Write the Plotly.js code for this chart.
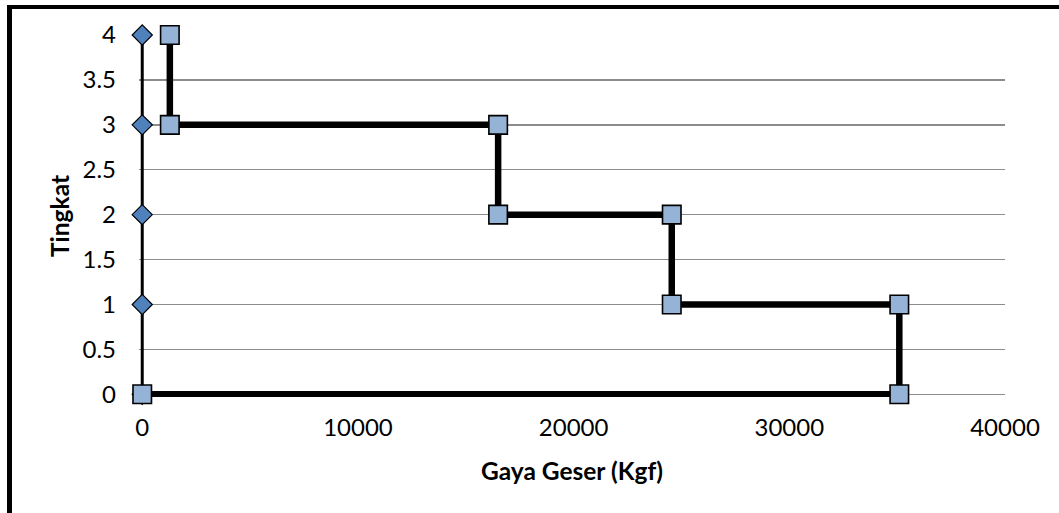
<!DOCTYPE html>
<html>
<head>
<meta charset="utf-8">
<script src="https://cdn.plot.ly/plotly-3.0.1.min.js"></script>
<style>
  html, body { margin: 0; padding: 0; background: #fff; }
  #wrap { position: relative; width: 1059px; height: 513px; }
  #chart { position: absolute; left: 0; top: 0; width: 1059px; height: 513px; }
  #frame {
    position: absolute; left: 7px; top: 5px; right: 0; bottom: 0;
    border-top: 4px solid #000; border-left: 5px solid #000;
    pointer-events: none;
  }
</style>
</head>
<body>
<div id="wrap">
  <div id="chart"></div>
  <div id="frame"></div>
</div>
<script>
// Storey levels and the shear force acting on each storey
const levels = [0, 1, 2, 3, 4];
const baseLine = [0, 0, 0, 0, 0];

const stepLevels = [0, 0, 1, 1, 2, 2, 3, 3, 4];
const stepShear = [0, 35100, 35100, 24550, 24550, 16500, 16500, 1280, 1280];

const xTicks = [0, 10000, 20000, 30000, 40000];
const yTicks = [0, 0.5, 1, 1.5, 2, 2.5, 3, 3.5, 4];

const font = "Lato, 'Open Sans', sans-serif";

const traces = [
  {
    x: baseLine, y: levels, type: "scatter", mode: "lines+markers",
    cliponaxis: false,
    line: { color: "#000", width: 3 },
    marker: { symbol: "diamond", size: 15.5, color: "#4F81BD", line: { color: "#000", width: 1.2 } }
  },
  {
    x: stepShear, y: stepLevels, type: "scatter", mode: "lines+markers",
    cliponaxis: false,
    line: { color: "#000", width: 6.5 },
    marker: { symbol: "square", size: 18.5, color: "#95B3D7", line: { color: "#000", width: 1.6 } }
  }
];

// A small pad below zero keeps the full width of the lines on x = 0 and y = 0
const layout = {
  width: 1059, height: 513,
  margin: { l: 138.8, r: 54, t: 34.5, b: 116.3 },
  paper_bgcolor: "#fff", plot_bgcolor: "#fff",
  showlegend: false,
  font: { family: font, color: "#000", size: 24 },
  xaxis: {
    range: [-150, 40000], tickvals: xTicks, ticktext: xTicks.map(String),
    showgrid: false, zeroline: false, showline: false, ticks: "",
    ticklabelstandoff: 14,
    tickfont: { family: font, size: 24, color: "#000" },
    title: { text: "<b>Gaya Geser (Kgf)</b>", font: { family: font, size: 24.5, color: "#000" }, standoff: 22 }
  },
  yaxis: {
    range: [-0.03, 4], tickvals: yTicks, ticktext: yTicks.map(String),
    showgrid: true, gridcolor: "#8c8c8c", gridwidth: 1.5,
    zeroline: false, showline: false, ticks: "",
    ticklabelstandoff: 22,
    tickfont: { family: font, size: 24, color: "#000" },
    title: { text: "<b>Tingkat</b>", font: { family: font, size: 24.5, color: "#000" }, standoff: 5 }
  }
};

Plotly.newPlot("chart", traces, layout, { displayModeBar: false, staticPlot: true });
</script>
</body>
</html>
